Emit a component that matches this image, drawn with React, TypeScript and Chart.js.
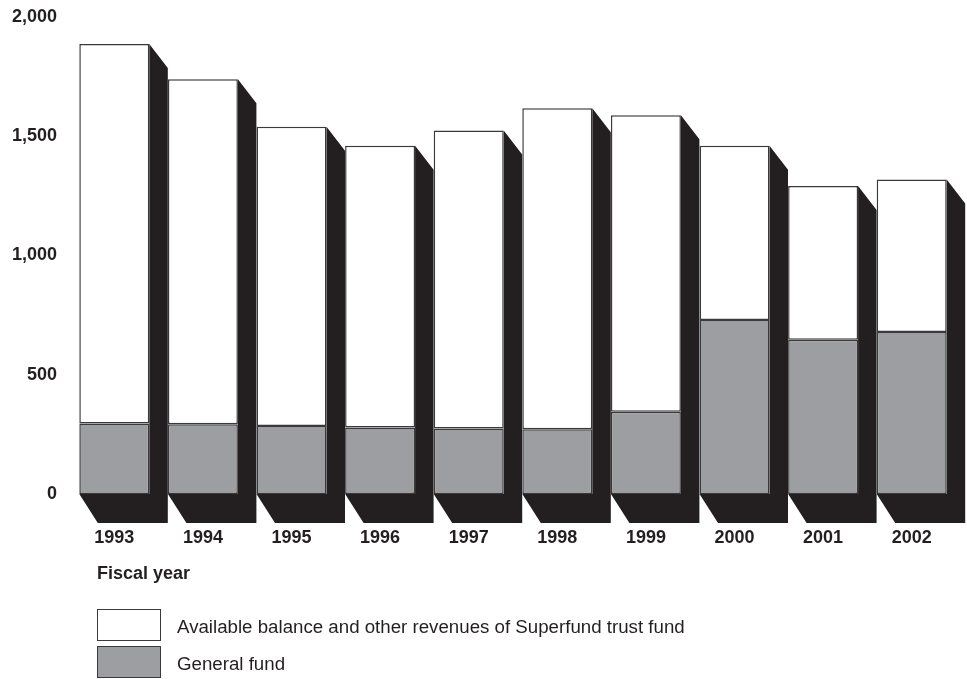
import React, { useEffect, useRef } from "react";
import { Chart, registerables } from "chart.js";

Chart.register(...registerables);

const years = ["1993", "1994", "1995", "1996", "1997", "1998", "1999", "2000", "2001", "2002"];
// Millions of dollars
const generalFund = [296, 292, 285, 279, 275, 271, 345, 730, 647, 679];
const trustFund = [1591, 1447, 1255, 1181, 1249, 1346, 1243, 730, 644, 640];
const yTicks = [0, 500, 1000, 1500, 2000];

const legendLabels = [
  "Available balance and other revenues of Superfund trust fund",
  "General fund",
];

const INK = "#231f20";
const GRAY = "#9d9ea2";
const FONT = "'Liberation Sans', Arial, Helvetica, sans-serif";

// Extruded "3D" side and floor behind each stacked column
const depthPlugin = {
  id: "depth",
  beforeDatasetsDraw(chart: any) {
    const { ctx } = chart;
    const yScale = chart.scales.y;
    const topMeta = chart.getDatasetMeta(1);
    const zero = yScale.getPixelForValue(0);
    const dx = 18.5;
    const dyTop = 24;
    const dyBottom = 29;
    ctx.save();
    ctx.fillStyle = INK;
    topMeta.data.forEach((el: any) => {
      const p = el.getProps(["x", "y", "width"], true);
      const L = p.x - p.width / 2;
      const R = p.x + p.width / 2;
      const T = p.y;
      const B = zero;
      ctx.beginPath();
      ctx.moveTo(R, T);
      ctx.lineTo(R + dx, T + dyTop);
      ctx.lineTo(R + dx, B + dyBottom);
      ctx.lineTo(L + dx, B + dyBottom);
      ctx.lineTo(L, B);
      ctx.lineTo(R, B);
      ctx.closePath();
      ctx.fill();
    });
    ctx.restore();
  },
};

export default function App() {
  const canvasRef = useRef<HTMLCanvasElement | null>(null);

  useEffect(() => {
    if (!canvasRef.current) return;
    const chart = new Chart(canvasRef.current, {
      type: "bar",
      data: {
        labels: years,
        datasets: [
          {
            label: legendLabels[1],
            data: generalFund,
            backgroundColor: GRAY,
            borderColor: "#3a3a3a",
            borderWidth: 1.5,
            borderSkipped: false,
            barPercentage: 0.79,
            categoryPercentage: 1,
          },
          {
            label: legendLabels[0],
            data: trustFund,
            backgroundColor: "#ffffff",
            borderColor: "#3a3a3a",
            borderWidth: 1.5,
            borderSkipped: false,
            barPercentage: 0.79,
            categoryPercentage: 1,
          },
        ],
      },
      options: {
        responsive: false,
        animation: false,
        devicePixelRatio: 1,
        layout: { padding: { top: 17, right: 11, left: 0, bottom: 0 } },
        plugins: {
          legend: { display: false },
          tooltip: { enabled: false },
        },
        scales: {
          x: {
            stacked: true,
            border: { display: false },
            grid: { display: false, drawTicks: false },
            ticks: {
              color: INK,
              padding: 33,
              font: { family: FONT, size: 18, weight: "bold" },
            },
            afterFit(scale: any) {
              scale.height = 185;
            },
          },
          y: {
            stacked: true,
            min: 0,
            max: 2000,
            border: { display: false },
            grid: { display: false, drawTicks: false },
            afterBuildTicks(scale: any) {
              scale.ticks = yTicks.map((v) => ({ value: v }));
            },
            ticks: {
              color: INK,
              padding: 13,
              font: { family: FONT, size: 18, weight: "bold" },
              callback: (v: any) => Number(v).toLocaleString("en-US"),
            },
            afterFit(scale: any) {
              scale.width = 70;
              scale.paddingTop = 0;
              scale.paddingBottom = 0;
            },
          },
        },
      },
      plugins: [depthPlugin],
    });
    return () => chart.destroy();
  }, []);

  const swatch = (bg: string, top: number, h: number): React.CSSProperties => ({
    position: "absolute",
    left: 97,
    top,
    width: 64,
    height: h,
    boxSizing: "border-box",
    border: "1.5px solid #3a3a3a",
    background: bg,
  });

  const legendText = (center: number): React.CSSProperties => ({
    position: "absolute",
    left: 177,
    top: center - 11,
    height: 22,
    lineHeight: "22px",
    fontFamily: FONT,
    fontSize: 18.7,
    color: INK,
    whiteSpace: "nowrap",
  });

  return (
    <div
      style={{
        position: "absolute",
        left: 0,
        top: 0,
        width: 967,
        height: 679,
        background: "#ffffff",
        overflow: "hidden",
      }}
    >
      <canvas ref={canvasRef} width={967} height={679} style={{ display: "block" }} />
      <div
        style={{
          position: "absolute",
          left: 97,
          top: 562,
          height: 22,
          lineHeight: "22px",
          fontFamily: FONT,
          fontSize: 18,
          fontWeight: "bold",
          color: INK,
        }}
      >
        Fiscal year
      </div>
      <div style={swatch("#ffffff", 609, 32)} />
      <div style={legendText(627)}>{legendLabels[0]}</div>
      <div style={swatch(GRAY, 646, 32)} />
      <div style={legendText(664)}>{legendLabels[1]}</div>
    </div>
  );
}
